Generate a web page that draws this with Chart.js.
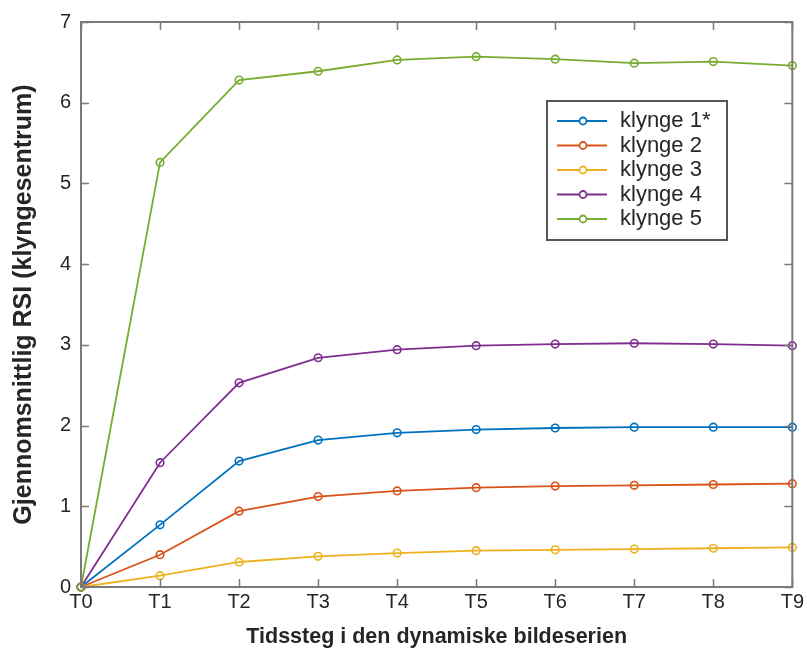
<!DOCTYPE html>
<html>
<head>
<meta charset="utf-8">
<script src="https://cdn.jsdelivr.net/npm/chart.js@4"></script>
<style>
  html, body { margin: 0; padding: 0; background: #fff; }
  #wrap { width: 807px; height: 657px; }
</style>
</head>
<body>
<div id="wrap"><canvas id="rsiChart" width="807" height="657"></canvas></div>
<script>
const steps = ['T0', 'T1', 'T2', 'T3', 'T4', 'T5', 'T6', 'T7', 'T8', 'T9'];
const seriesNames = ['klynge 1*', 'klynge 2', 'klynge 3', 'klynge 4', 'klynge 5'];
const klynge1 = [0, 0.77, 1.56, 1.82, 1.91, 1.95, 1.97, 1.98, 1.98, 1.98];
const klynge2 = [0, 0.40, 0.94, 1.12, 1.19, 1.23, 1.25, 1.26, 1.27, 1.28];
const klynge3 = [0, 0.14, 0.31, 0.38, 0.42, 0.45, 0.46, 0.47, 0.48, 0.49];
const klynge4 = [0, 1.54, 2.53, 2.84, 2.94, 2.99, 3.01, 3.02, 3.01, 2.99];
const klynge5 = [0, 5.26, 6.28, 6.39, 6.53, 6.57, 6.54, 6.49, 6.51, 6.46];
const colors = ['#0072BD', '#D95319', '#EDB120', '#7E2F8E', '#77AC30'];

const axisGray = '#7a7a7a';
const textDark = '#262626';
const fontFam = '"Liberation Sans", Arial, sans-serif';

// box + inward ticks, MATLAB style
const frameTicks = {
    id: 'frameTicks',
    afterDatasetsDraw(chart) {
        const { ctx, chartArea: a, scales } = chart;
        const len = 8;
        ctx.save();
        ctx.strokeStyle = axisGray;
        ctx.lineWidth = 1.5;
        ctx.beginPath();
        scales.x.ticks.forEach((t, i) => {
            const px = Math.round(scales.x.getPixelForTick(i)) + 0.5;
            ctx.moveTo(px, a.bottom); ctx.lineTo(px, a.bottom - len);
            ctx.moveTo(px, a.top); ctx.lineTo(px, a.top + len);
        });
        scales.y.ticks.forEach(t => {
            const py = Math.round(scales.y.getPixelForValue(t.value)) + 0.5;
            ctx.moveTo(a.left, py); ctx.lineTo(a.left + len, py);
            ctx.moveTo(a.right, py); ctx.lineTo(a.right - len, py);
        });
        ctx.stroke();
        ctx.lineWidth = 2;
        ctx.strokeRect(a.left, a.top, a.right - a.left, a.bottom - a.top);
        ctx.restore();
    }
};

// legend box inside the plot
const insideLegend = {
    id: 'insideLegend',
    afterDraw(chart) {
        const { ctx, chartArea: a } = chart;
        const x0 = a.left + 466, y0 = a.top + 79, w = 180, h = 139;
        ctx.save();
        ctx.fillStyle = '#fff';
        ctx.fillRect(x0, y0, w, h);
        ctx.strokeStyle = '#555';
        ctx.lineWidth = 2;
        ctx.strokeRect(x0, y0, w, h);
        ctx.font = '22px ' + fontFam;
        ctx.textBaseline = 'middle';
        chart.data.datasets.forEach((ds, i) => {
            const y = y0 + 20 + i * 24.5;
            ctx.strokeStyle = ds.borderColor;
            ctx.lineWidth = 1.8;
            ctx.beginPath();
            ctx.moveTo(x0 + 10, y); ctx.lineTo(x0 + 60, y);
            ctx.stroke();
            ctx.beginPath();
            ctx.arc(x0 + 36, y, 3.5, 0, Math.PI * 2);
            ctx.fillStyle = '#fff';
            ctx.fill();
            ctx.stroke();
            ctx.fillStyle = textDark;
            ctx.fillText(ds.label, x0 + 73, y);
        });
        ctx.restore();
    }
};

const ctx = document.getElementById('rsiChart').getContext('2d');
const allSeries = [klynge1, klynge2, klynge3, klynge4, klynge5];

new Chart(ctx, {
    type: 'line',
    data: {
        labels: steps,
        datasets: allSeries.map((vals, i) => ({
            label: seriesNames[i],
            data: vals,
            borderColor: colors[i],
            backgroundColor: colors[i],
            borderWidth: 1.8,
            pointRadius: 3.8,
            pointBorderWidth: 1.6,
            pointBackgroundColor: 'rgba(255,255,255,0)',
            pointBorderColor: colors[i],
            tension: 0,
            clip: false,
            order: 5 - i
        }))
    },
    options: {
        responsive: false,
        animation: false,
        layout: { padding: { left: 0, right: 12, top: 22, bottom: 0 } },
        plugins: {
            legend: { display: false },
            tooltip: { enabled: false }
        },
        scales: {
            x: {
                offset: false,
                grid: { display: false, drawTicks: false },
                border: { display: false },
                ticks: {
                    color: textDark,
                    padding: 3,
                    maxRotation: 0,
                    font: { family: fontFam, size: 20 }
                },
                title: {
                    display: true,
                    text: 'Tidssteg i den dynamiske bildeserien',
                    color: textDark,
                    font: { family: fontFam, size: 21.5, weight: 'bold' },
                    padding: { top: 0, bottom: 7 }
                },
                afterFit(scale) { scale.height = 70; }
            },
            y: {
                min: 0,
                max: 7,
                grid: { display: false, drawTicks: false },
                border: { display: false },
                ticks: {
                    stepSize: 1,
                    color: textDark,
                    padding: 10,
                    font: { family: fontFam, size: 20 }
                },
                title: {
                    display: true,
                    text: 'Gjennomsnittlig RSI (klyngesentrum)',
                    color: textDark,
                    font: { family: fontFam, size: 25, weight: 'bold' },
                    padding: { top: 9, bottom: 0 }
                },
                afterFit(scale) { scale.width = 81; }
            }
        }
    },
    plugins: [frameTicks, insideLegend]
});
</script>
</body>
</html>
